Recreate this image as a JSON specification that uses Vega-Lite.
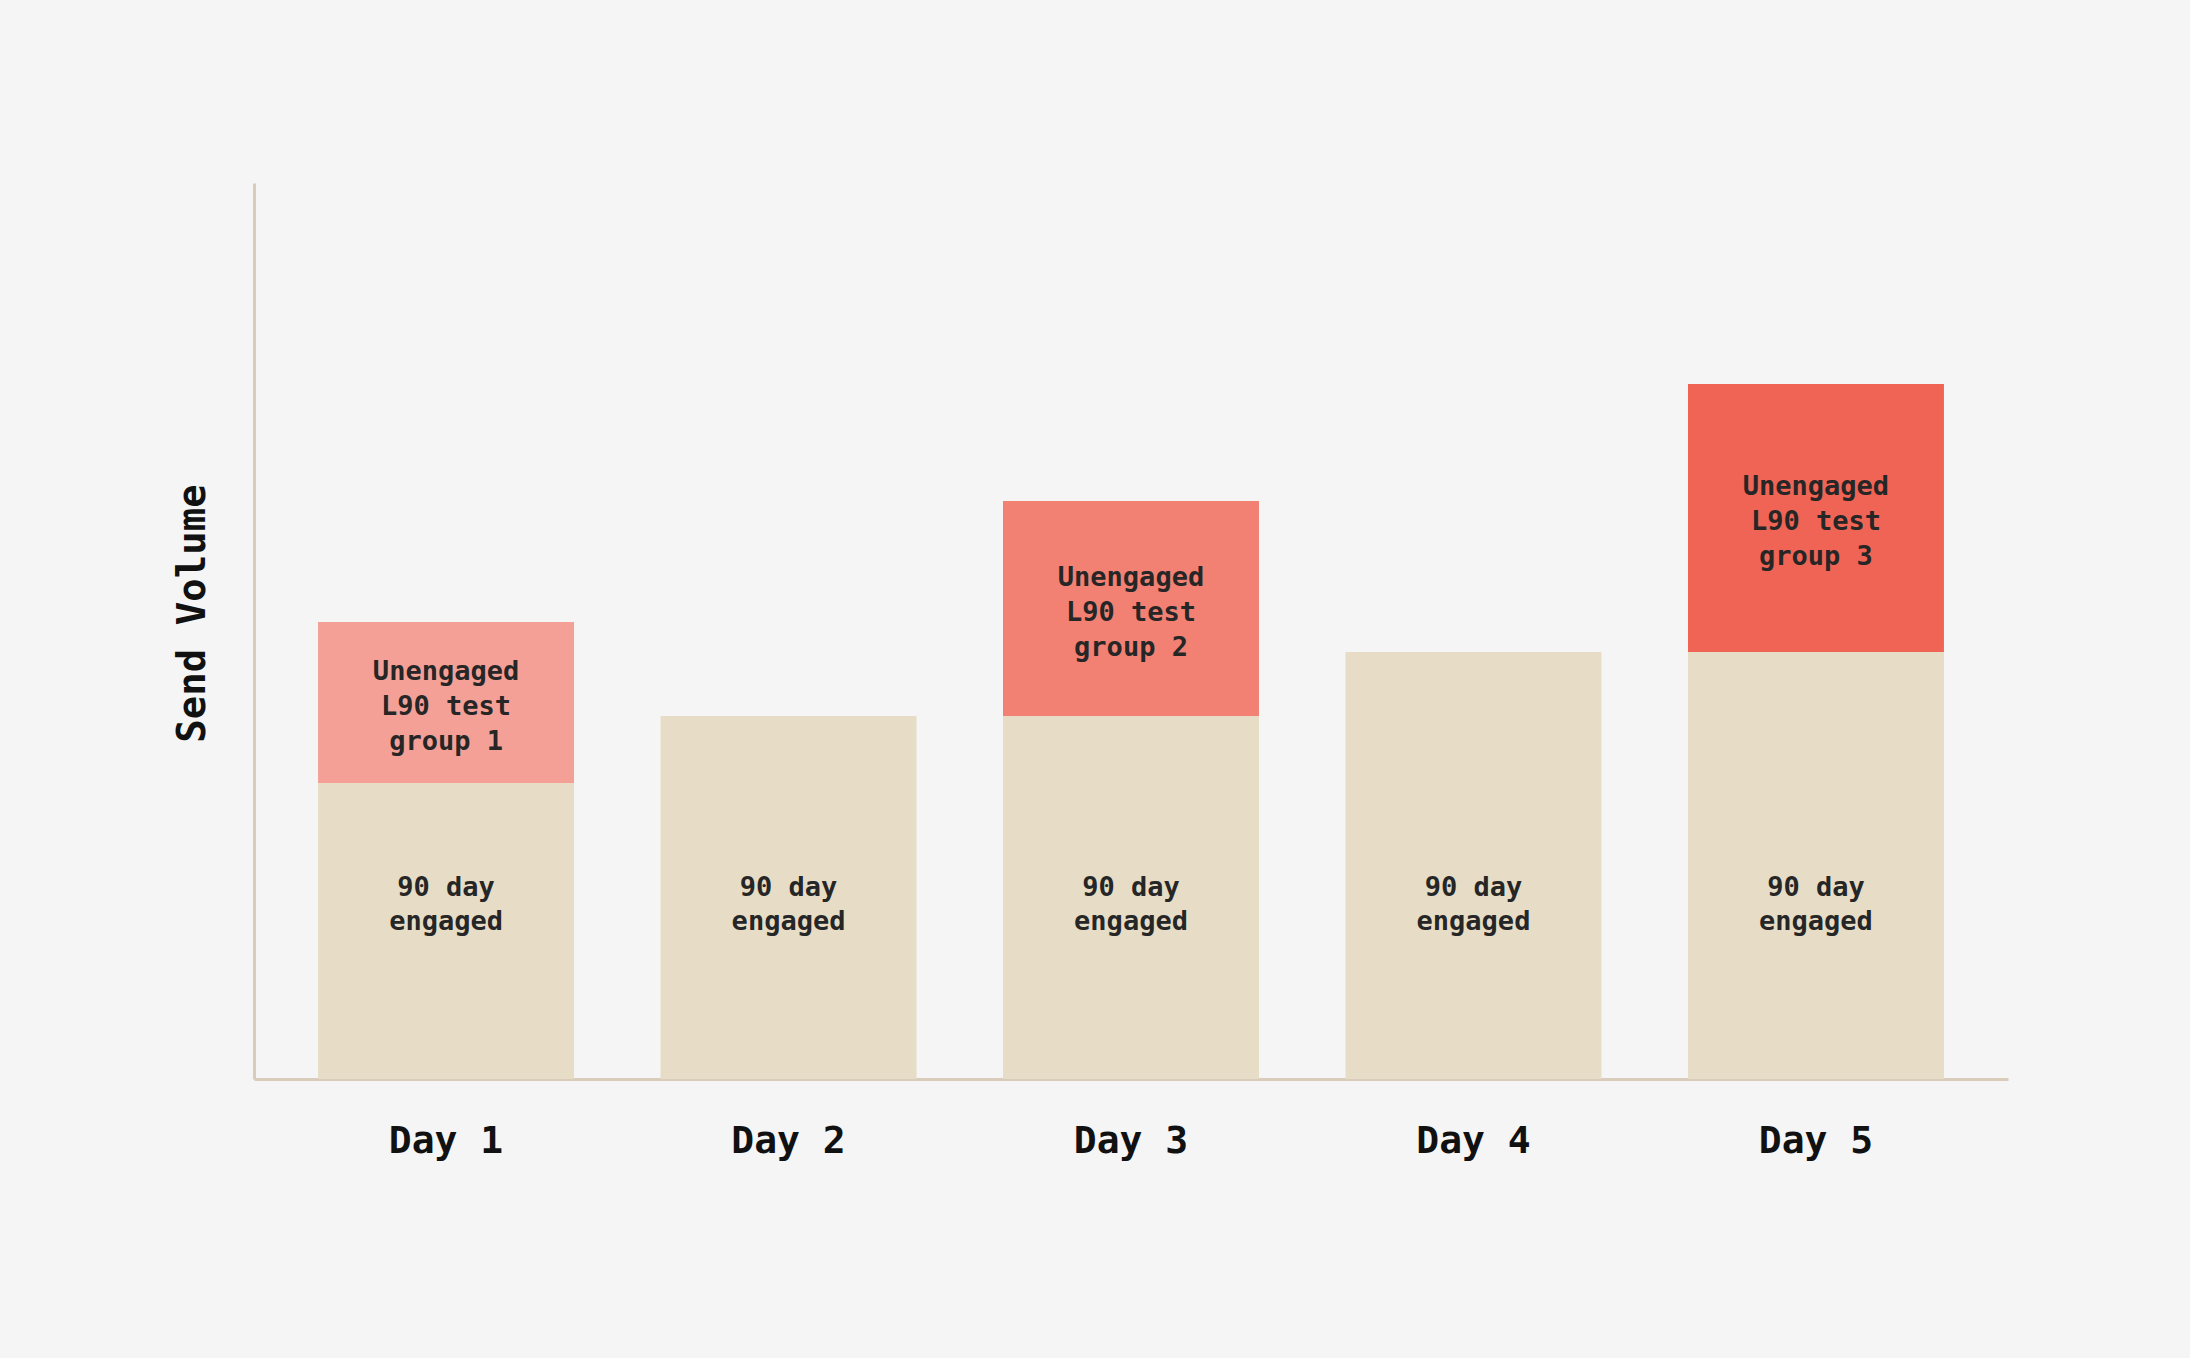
{
  "$schema": "https://vega.github.io/schema/vega-lite/v6.json",
  "autosize": {"type": "none"},
  "width": 1754,
  "height": 896,
  "padding": {"left": 254, "top": 183, "right": 182, "bottom": 279},
  "background": "#f5f5f5",
  "config": {
    "view": {"stroke": null},
    "font": "DejaVu Sans Mono"
  },
  "data": {
    "values": [
      {"day": "Day 1", "segment": "engaged", "volume": 296, "label": "90 day\nengaged"},
      {"day": "Day 1", "segment": "group 1", "volume": 161, "label": "Unengaged\nL90 test\ngroup 1"},
      {"day": "Day 2", "segment": "engaged", "volume": 363, "label": "90 day\nengaged"},
      {"day": "Day 3", "segment": "engaged", "volume": 363, "label": "90 day\nengaged"},
      {"day": "Day 3", "segment": "group 2", "volume": 215, "label": "Unengaged\nL90 test\ngroup 2"},
      {"day": "Day 4", "segment": "engaged", "volume": 427, "label": "90 day\nengaged"},
      {"day": "Day 5", "segment": "engaged", "volume": 427, "label": "90 day\nengaged"},
      {"day": "Day 5", "segment": "group 3", "volume": 268, "label": "Unengaged\nL90 test\ngroup 3"}
    ]
  },
  "encoding": {
    "x": {
      "field": "day",
      "type": "nominal",
      "sort": null,
      "scale": {"paddingInner": 0.2526, "paddingOuter": 0.187},
      "axis": {
        "title": null,
        "labelAngle": 0,
        "ticks": false,
        "labelPadding": 43,
        "labelFontSize": 38,
        "labelFontWeight": "bold",
        "labelColor": "#111111",
        "labelFont": "DejaVu Sans Mono",
        "domainColor": "#d9ccba",
        "domainWidth": 3
      }
    }
  },
  "layer": [
    {
      "mark": {"type": "bar"},
      "encoding": {
        "y": {
          "field": "volume",
          "type": "quantitative",
          "stack": "zero",
          "scale": {"domain": [0, 896], "nice": false},
          "axis": {
            "title": "Send Volume",
            "labels": false,
            "ticks": false,
            "grid": false,
            "domainColor": "#d9ccba",
            "domainWidth": 3,
            "titleFont": "DejaVu Sans Mono",
            "titleFontSize": 39,
            "titleFontWeight": "bold",
            "titleColor": "#111111",
            "titleX": -62,
            "titleY": 430,
            "titleAngle": -90,
            "titleAlign": "center",
            "titleBaseline": "middle"
          }
        },
        "color": {
          "field": "segment",
          "type": "nominal",
          "scale": {
            "domain": ["engaged", "group 1", "group 2", "group 3"],
            "range": ["#e7ddc6", "#f4a097", "#f28073", "#ef6454"]
          },
          "legend": null
        },
        "order": {"field": "segment", "sort": "ascending"}
      }
    },
    {
      "transform": [{"filter": "datum.segment === 'engaged'"}],
      "mark": {
        "type": "text",
        "lineBreak": "\n",
        "lineHeight": 34,
        "fontSize": 27,
        "fontWeight": "bold",
        "font": "DejaVu Sans Mono",
        "color": "#262626",
        "align": "center",
        "baseline": "middle",
        "dy": -17
      },
      "encoding": {
        "y": {"datum": 174, "type": "quantitative"},
        "text": {"field": "label"}
      }
    },
    {
      "transform": [
        {"stack": "volume", "groupby": ["day"], "sort": [{"field": "segment", "order": "ascending"}], "as": ["v0", "v1"]},
        {"filter": "datum.segment !== 'engaged'"},
        {"calculate": "(datum.v0 + datum.v1) / 2", "as": "mid"}
      ],
      "mark": {
        "type": "text",
        "lineBreak": "\n",
        "lineHeight": 35,
        "fontSize": 27,
        "fontWeight": "bold",
        "font": "DejaVu Sans Mono",
        "color": "#262626",
        "align": "center",
        "baseline": "middle",
        "dy": -31
      },
      "encoding": {
        "y": {"field": "mid", "type": "quantitative"},
        "text": {"field": "label"}
      }
    }
  ]
}
